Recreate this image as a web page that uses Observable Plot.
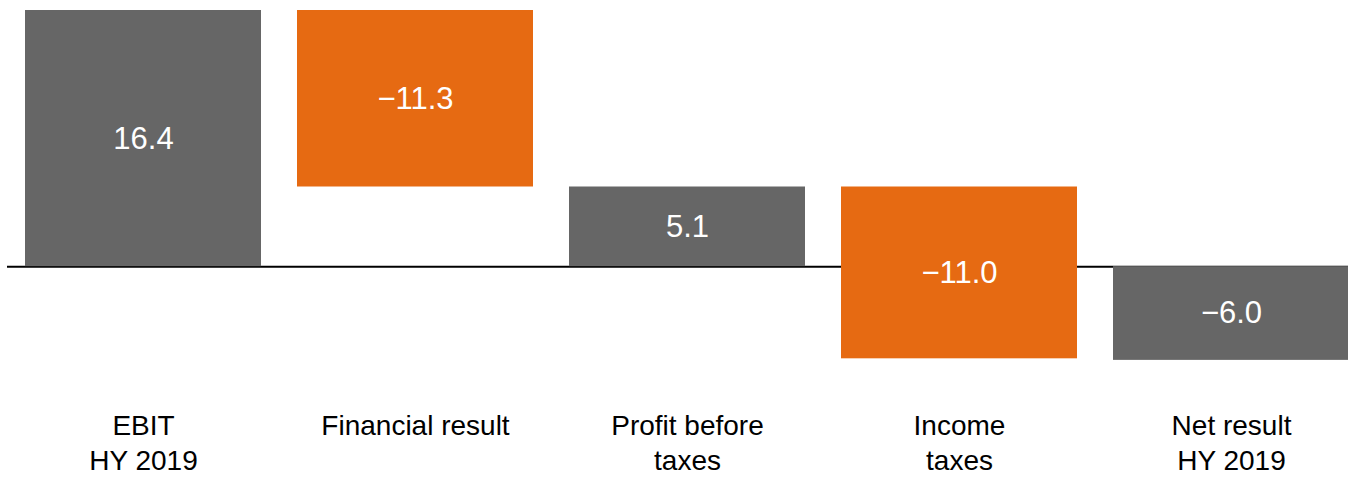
<!DOCTYPE html>
<html>
<head>
<meta charset="utf-8">
<script src="https://cdn.jsdelivr.net/npm/d3@7"></script>
<script src="https://cdn.jsdelivr.net/npm/@observablehq/plot@0.6"></script>
<style>
  html, body { margin: 0; padding: 0; background: #fff; }
</style>
</head>
<body>
<div id="chart"></div>
<script>
const categories = ["EBIT\nHY 2019", "Financial result", "Profit before\ntaxes", "Income\ntaxes", "Net result\nHY 2019"];
const values = [16.4, -11.3, 5.1, -11.0, -6.0];
const isTotal = [true, false, true, false, true];

const GRAY = "#666666";
const ORANGE = "#E66A12";

// Build waterfall segments
let running = 0;
const rows = categories.map((c, i) => {
  let y1, y2;
  if (isTotal[i]) { y1 = 0; y2 = values[i]; running = values[i]; }
  else { y1 = running; y2 = running + values[i]; running = y2; }
  return { cat: c, value: values[i], y1, y2, mid: (y1 + y2) / 2, color: isTotal[i] ? GRAY : ORANGE };
});

const fmt = d3.format(".1f");

const chart = Plot.plot({
  width: 1348,
  height: 477,
  marginLeft: 7,
  marginRight: 0,
  marginTop: 10,
  marginBottom: 114,
  style: { fontFamily: "'Liberation Sans', Arial, sans-serif", background: "#fff" },
  x: { type: "band", domain: categories, range: [25, 1349], paddingInner: 36 / 272, paddingOuter: 0, axis: null },
  y: { domain: [-6.2, 16.4], axis: null },
  marks: [
    Plot.ruleY([0], { stroke: "#000", strokeWidth: 2 }),
    Plot.barY(rows, { x: "cat", y1: "y1", y2: "y2", fill: "color" }),
    Plot.text(rows, { x: "cat", y: "mid", text: d => fmt(d.value), fill: "#fff", fontSize: 31 }),
    Plot.axisX({ tickSize: 0, tickPadding: 46, fontSize: 28, lineHeight: 1.27, fill: "#000", label: null })
  ]
});
document.getElementById("chart").appendChild(chart);
</script>
</body>
</html>
